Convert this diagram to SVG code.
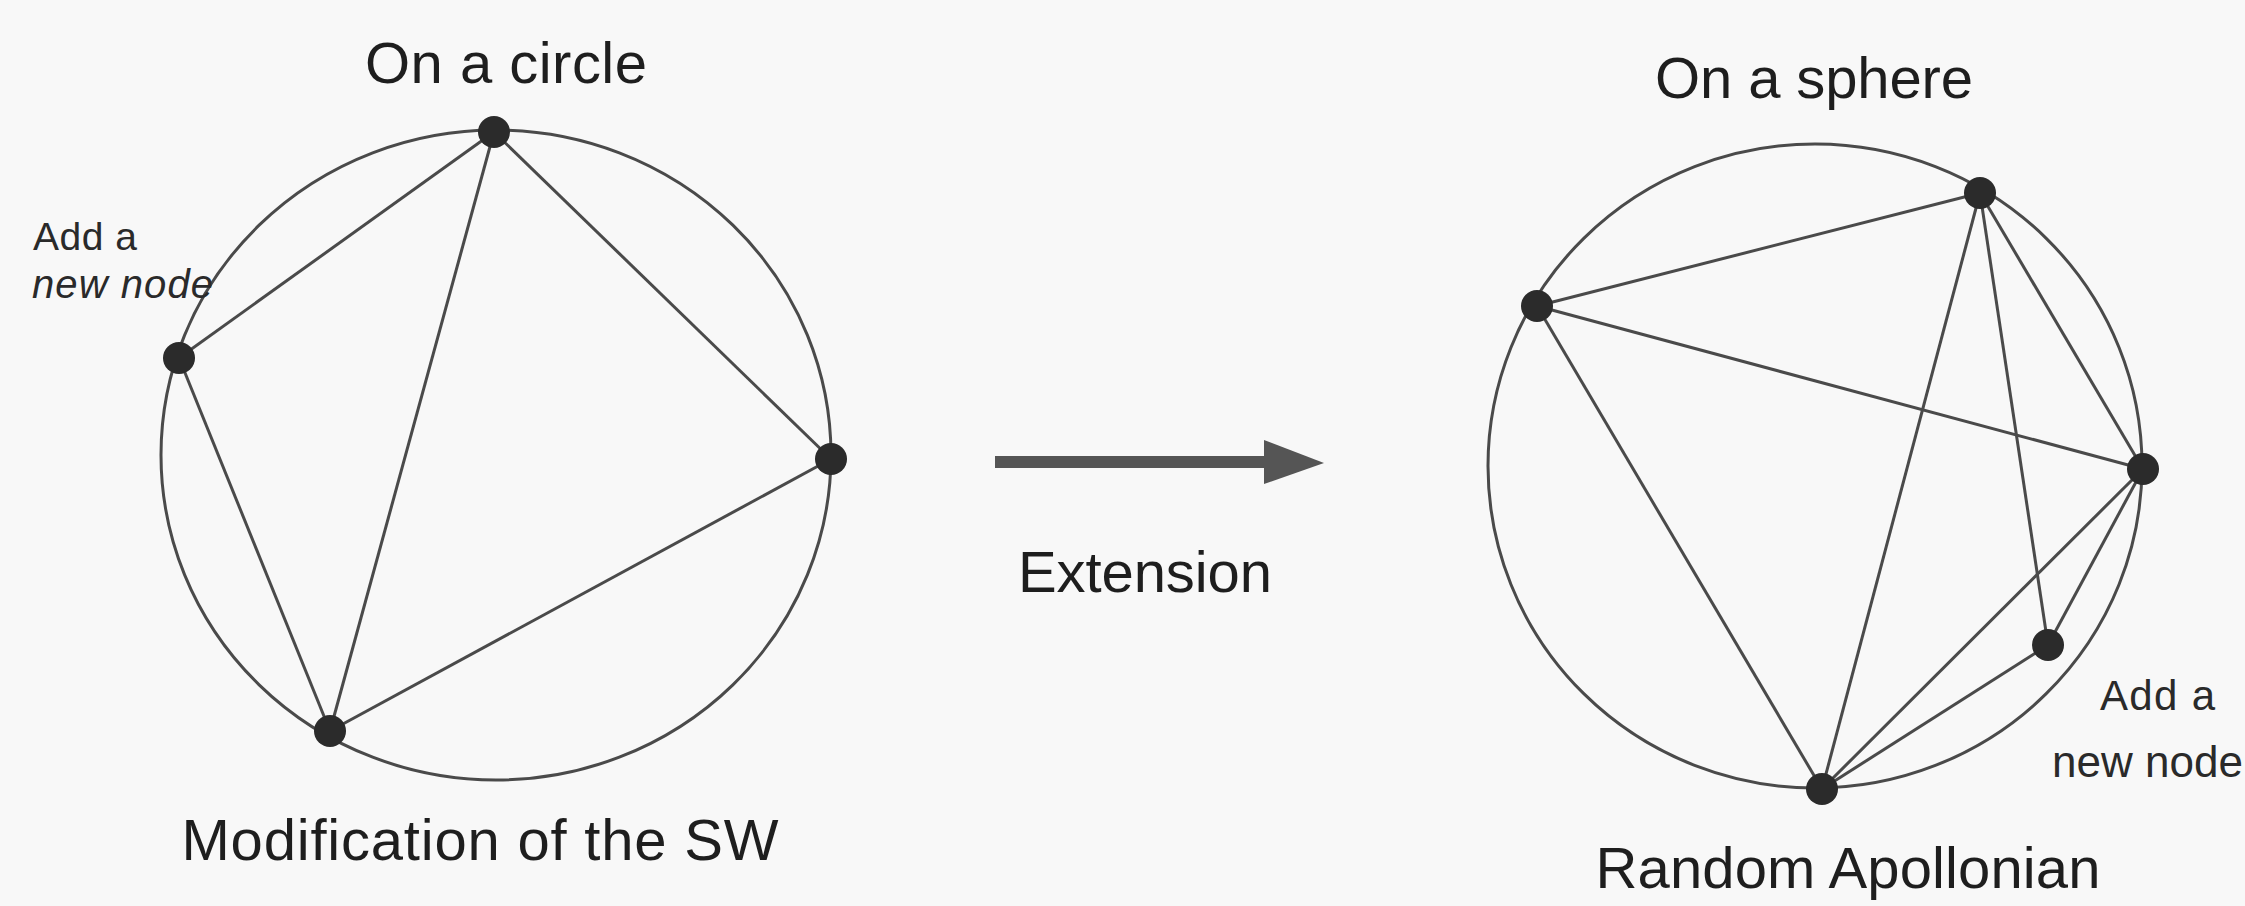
<svg xmlns="http://www.w3.org/2000/svg" width="2245" height="906" viewBox="0 0 2245 906">
<style>
.bg{fill:#f8f8f8}
.ring{fill:none;stroke:#4a4a4a;stroke-width:3}
.edge{stroke:#4a4a4a;stroke-width:3;fill:none}
.node{fill:#2b2b2b}
.title{font-family:"Liberation Sans",Arial,sans-serif;font-size:58px;fill:#1e1e1e}
.note{font-family:"Liberation Sans",Arial,sans-serif;fill:#2a2a2a}
.arrow{stroke:#555;stroke-width:12;fill:none}
.head{fill:#555}
</style>
<rect class="bg" x="0" y="0" width="2245" height="906"/>

<!-- Left panel -->
<g id="left-circle">
  <ellipse class="ring" cx="496" cy="455" rx="335" ry="325"/>
</g>
<g id="left-connectors">
  <line class="edge" x1="494" y1="132" x2="179" y2="358"/>
  <line class="edge" x1="494" y1="132" x2="330" y2="731"/>
  <line class="edge" x1="494" y1="132" x2="831" y2="459"/>
  <line class="edge" x1="179" y1="358" x2="330" y2="731"/>
  <line class="edge" x1="831" y1="459" x2="330" y2="731"/>
</g>
<g id="left-node-top"><circle class="node" cx="494" cy="132" r="16"/></g>
<g id="left-node-new"><circle class="node" cx="179" cy="358" r="16"/></g>
<g id="left-node-right"><circle class="node" cx="831" cy="459" r="16"/></g>
<g id="left-node-bottom"><circle class="node" cx="330" cy="731" r="16"/></g>
<g id="left-labels">
  <text class="title" x="506" y="83" text-anchor="middle" textLength="282">On a circle</text>
  <text class="title" x="480" y="860" text-anchor="middle" textLength="597">Modification of the SW</text>
  <text class="note" x="33" y="250" font-size="39" textLength="104">Add a</text>
  <text class="note" x="32" y="298" font-size="40" font-style="italic" textLength="181">new node</text>
</g>

<!-- Arrow -->
<g id="extension-arrow">
  <line class="arrow" x1="995" y1="462" x2="1270" y2="462"/>
  <polygon class="head" points="1264,440 1324,463 1264,484"/>
  <text class="title" x="1145" y="592" text-anchor="middle" textLength="254">Extension</text>
</g>

<!-- Right panel -->
<g id="right-circle">
  <ellipse class="ring" cx="1815" cy="466" rx="327" ry="322"/>
</g>
<g id="right-connectors">
  <line class="edge" x1="1980" y1="193" x2="1537" y2="306"/>
  <line class="edge" x1="1537" y1="306" x2="2143" y2="469"/>
  <line class="edge" x1="1537" y1="306" x2="1822" y2="789"/>
  <line class="edge" x1="1980" y1="193" x2="1822" y2="789"/>
  <line class="edge" x1="1980" y1="193" x2="2048" y2="645"/>
  <line class="edge" x1="1980" y1="193" x2="2143" y2="469"/>
  <line class="edge" x1="2143" y1="469" x2="1822" y2="789"/>
  <line class="edge" x1="2143" y1="469" x2="2048" y2="645"/>
  <line class="edge" x1="2048" y1="645" x2="1822" y2="789"/>
</g>
<g id="right-node-top"><circle class="node" cx="1980" cy="193" r="16"/></g>
<g id="right-node-left"><circle class="node" cx="1537" cy="306" r="16"/></g>
<g id="right-node-right"><circle class="node" cx="2143" cy="469" r="16"/></g>
<g id="right-node-new"><circle class="node" cx="2048" cy="645" r="16"/></g>
<g id="right-node-bottom"><circle class="node" cx="1822" cy="789" r="16"/></g>
<g id="right-labels">
  <text class="title" x="1814" y="98" text-anchor="middle" textLength="318">On a sphere</text>
  <text class="title" x="1848" y="888" text-anchor="middle" textLength="505">Random Apollonian</text>
  <text class="note" x="2100" y="710" font-size="42" textLength="115">Add a</text>
  <text class="note" x="2052" y="777" font-size="44" textLength="191">new node</text>
</g>
</svg>
